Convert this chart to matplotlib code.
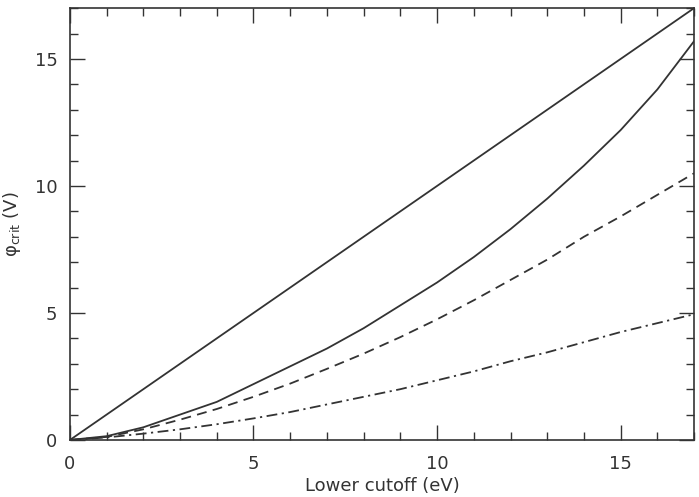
import matplotlib
matplotlib.use("Agg")
import matplotlib.pyplot as plt
from matplotlib.ticker import MultipleLocator

plt.rcParams['font.family'] = ['DejaVu Sans']
plt.rcParams['mathtext.fontset'] = 'dejavusans'

# Lower cutoff (eV)
cutoff = [0, 1, 2, 3, 4, 5, 6, 7, 8, 9, 10, 11, 12, 13, 14, 15, 16, 17]

# phi_crit (V) for each case
phi_linear = [0, 1, 2, 3, 4, 5, 6, 7, 8, 9, 10, 11, 12, 13, 14, 15, 16, 17]
phi_solid = [0, 0.15, 0.5, 1.0, 1.5, 2.2, 2.9, 3.6, 4.4, 5.3, 6.2, 7.2, 8.3, 9.5,
             10.8, 12.2, 13.8, 15.7]
phi_dashed = [0, 0.12, 0.42, 0.8, 1.22, 1.7, 2.22, 2.8, 3.4, 4.05, 4.75, 5.5, 6.3,
              7.1, 8.0, 8.8, 9.65, 10.5]
phi_dashdot = [0, 0.1, 0.25, 0.42, 0.62, 0.85, 1.1, 1.4, 1.7, 2.0, 2.35, 2.7, 3.1,
               3.45, 3.85, 4.25, 4.6, 4.95]

col = '#333333'

fig = plt.figure(figsize=(6.99, 4.97), dpi=100)
ax = fig.add_axes([0.1, 0.1147, 0.893, 0.869])

ax.plot(cutoff, phi_linear, color=col, lw=1.3, linestyle='-')
ax.plot(cutoff, phi_solid, color=col, lw=1.3, linestyle='-')
ax.plot(cutoff, phi_dashed, color=col, lw=1.3, linestyle=(0, (5.5, 3.5)))
ax.plot(cutoff, phi_dashdot, color=col, lw=1.3, linestyle=(0, (6, 2.5, 1.2, 2.5)))

ax.set_xlim(0, 17)
ax.set_ylim(0, 17)
ax.xaxis.set_major_locator(MultipleLocator(5))
ax.xaxis.set_minor_locator(MultipleLocator(1))
ax.yaxis.set_major_locator(MultipleLocator(5))
ax.yaxis.set_minor_locator(MultipleLocator(1))
ax.tick_params(which='both', direction='in', top=True, right=True,
               color=col, labelcolor=col, labelsize=13, width=1.0)
ax.tick_params(axis='x', which='major', length=11, pad=11)
ax.tick_params(axis='y', which='major', length=11, pad=9)
ax.tick_params(which='minor', length=5.5)
for s in ax.spines.values():
    s.set_color(col)
    s.set_linewidth(1.2)

ax.set_xlabel('Lower cutoff (eV)', fontsize=13, color=col, labelpad=3)
ax.set_ylabel('φ$_{\\rm crit}$ (V)', fontsize=13, color=col, labelpad=8)

fig.savefig('out.png', dpi=100)
